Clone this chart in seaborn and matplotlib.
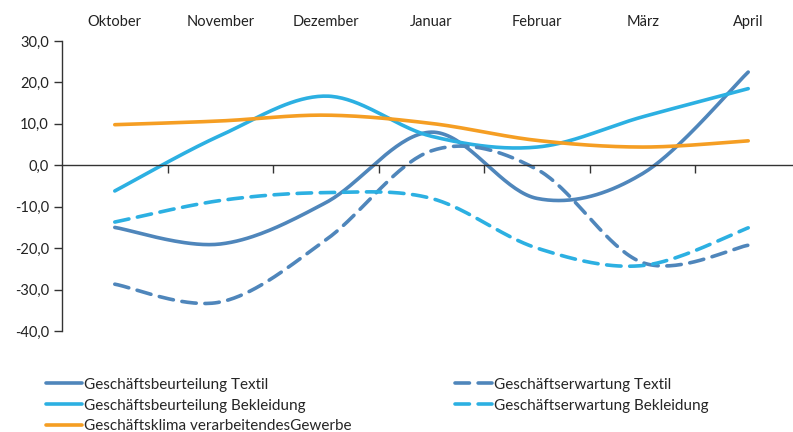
import numpy as np
import pandas as pd
import matplotlib
matplotlib.use("Agg")
import matplotlib.pyplot as plt
import seaborn as sns
from matplotlib.ticker import FuncFormatter, FixedLocator

# =========================
# DATA
# =========================
months = ["Oktober", "November", "Dezember", "Januar", "Februar", "März", "April"]

gb_textil = [-15.0, -19.0, -9.0, 8.0, -8.0, -2.0, 22.5]
ge_textil = [-28.7, -33.0, -18.0, 3.5, -1.0, -23.5, -19.3]
gb_bekleidung = [-6.2, 7.2, 16.7, 7.0, 4.4, 11.7, 18.5]
ge_bekleidung = [-13.7, -8.5, -6.6, -8.0, -20.0, -24.2, -15.1]
gk_gewerbe = [9.8, 10.7, 12.1, 10.1, 6.0, 4.4, 5.9]

labels = [
    "Geschäftsbeurteilung Textil",
    "Geschäftsbeurteilung Bekleidung",
    "Geschäftsklima verarbeitendesGewerbe",
    "Geschäftserwartung Textil",
    "Geschäftserwartung Bekleidung",
]

DARK = "#4f86bb"
LIGHT = "#2cb0e2"
ORANGE = "#f59e23"


# Excel-like smoothed line (Catmull-Rom via cubic Bezier)
def smooth(values, n=40):
    x = np.arange(len(values), dtype=float)
    y = np.asarray(values, dtype=float)
    p = np.column_stack([x, y])
    p = np.vstack([p[0], p, p[-1]])
    out = []
    t = np.linspace(0, 1, n)[:, None]
    for i in range(1, len(p) - 2):
        p0, p1, p2, p3 = p[i - 1], p[i], p[i + 1], p[i + 2]
        c1 = p1 + (p2 - p0) / 6
        c2 = p2 - (p3 - p1) / 6
        seg = ((1 - t) ** 3) * p1 + 3 * ((1 - t) ** 2) * t * c1 + 3 * (1 - t) * t ** 2 * c2 + t ** 3 * p2
        out.append(seg if i == 1 else seg[1:])
    out = np.vstack(out)
    return out[:, 0], out[:, 1]


# =========================
# PLOT
# =========================
sns.set_style("ticks")
plt.rcParams["font.family"] = ["Lato", "DejaVu Sans"]

fig = plt.figure(figsize=(7.93, 4.32), dpi=100)
ax = fig.add_axes([62 / 793, 1 - 331 / 432, (801 - 62) / 793, (331 - 41) / 432])

series = [
    (gb_textil, DARK, "solid"),
    (gb_bekleidung, LIGHT, "solid"),
    (gk_gewerbe, ORANGE, "solid"),
    (ge_textil, DARK, "dashed"),
    (ge_bekleidung, LIGHT, "dashed"),
]

for (vals, col, ls), lab in zip(series, labels):
    xs, ys = smooth(vals)
    kw = dict(x=xs, y=ys, color=col, linewidth=2.6, label=lab, ax=ax, sort=False)
    if ls == "dashed":
        line = sns.lineplot(**kw).lines[-1]
        line.set_dashes((4.0, 2.4))
        line.set_dash_capstyle("round")
    else:
        sns.lineplot(**kw)

ax.set_xlim(-0.5, 6.5)
ax.set_ylim(-40, 30)
ax.set_yticks(np.arange(-40, 31, 10))
ax.yaxis.set_major_formatter(FuncFormatter(lambda v, p: f"{v:.1f}".replace(".", ",")))

ax.set_xticks(range(len(months)))
ax.set_xticklabels(months)
ax.xaxis.set_minor_locator(FixedLocator(np.arange(0.5, 6, 1)))
ax.tick_params(axis="x", which="major", bottom=False, top=False,
               labelbottom=False, labeltop=True, pad=5, labelsize=10.5, colors="#222222")
ax.tick_params(axis="x", which="minor", bottom=True, top=False, length=6, width=1, color="#333333")
ax.tick_params(axis="y", length=6, width=1, labelsize=10.5, colors="#222222")
ax.tick_params(axis="y", color="#333333")

ax.spines["bottom"].set_position(("data", 0))
ax.spines["top"].set_visible(False)
ax.spines["right"].set_visible(False)
for s in ["bottom", "left"]:
    ax.spines[s].set_color("#333333")
    ax.spines[s].set_linewidth(1)
ax.set_xlabel("")
ax.set_ylabel("")

ax.get_legend().remove()
handles, labs = ax.get_legend_handles_labels()
leg = fig.legend(handles, labs, ncol=2, loc="upper left",
                 bbox_to_anchor=(32 / 793, 1 - 364 / 432),
                 frameon=False, handlelength=2.4, handletextpad=0.1,
                 columnspacing=6.8, labelspacing=0.45,
                 prop={"family": ["Lato", "DejaVu Sans"], "size": 11})

fig.savefig("out.png", dpi=100)
